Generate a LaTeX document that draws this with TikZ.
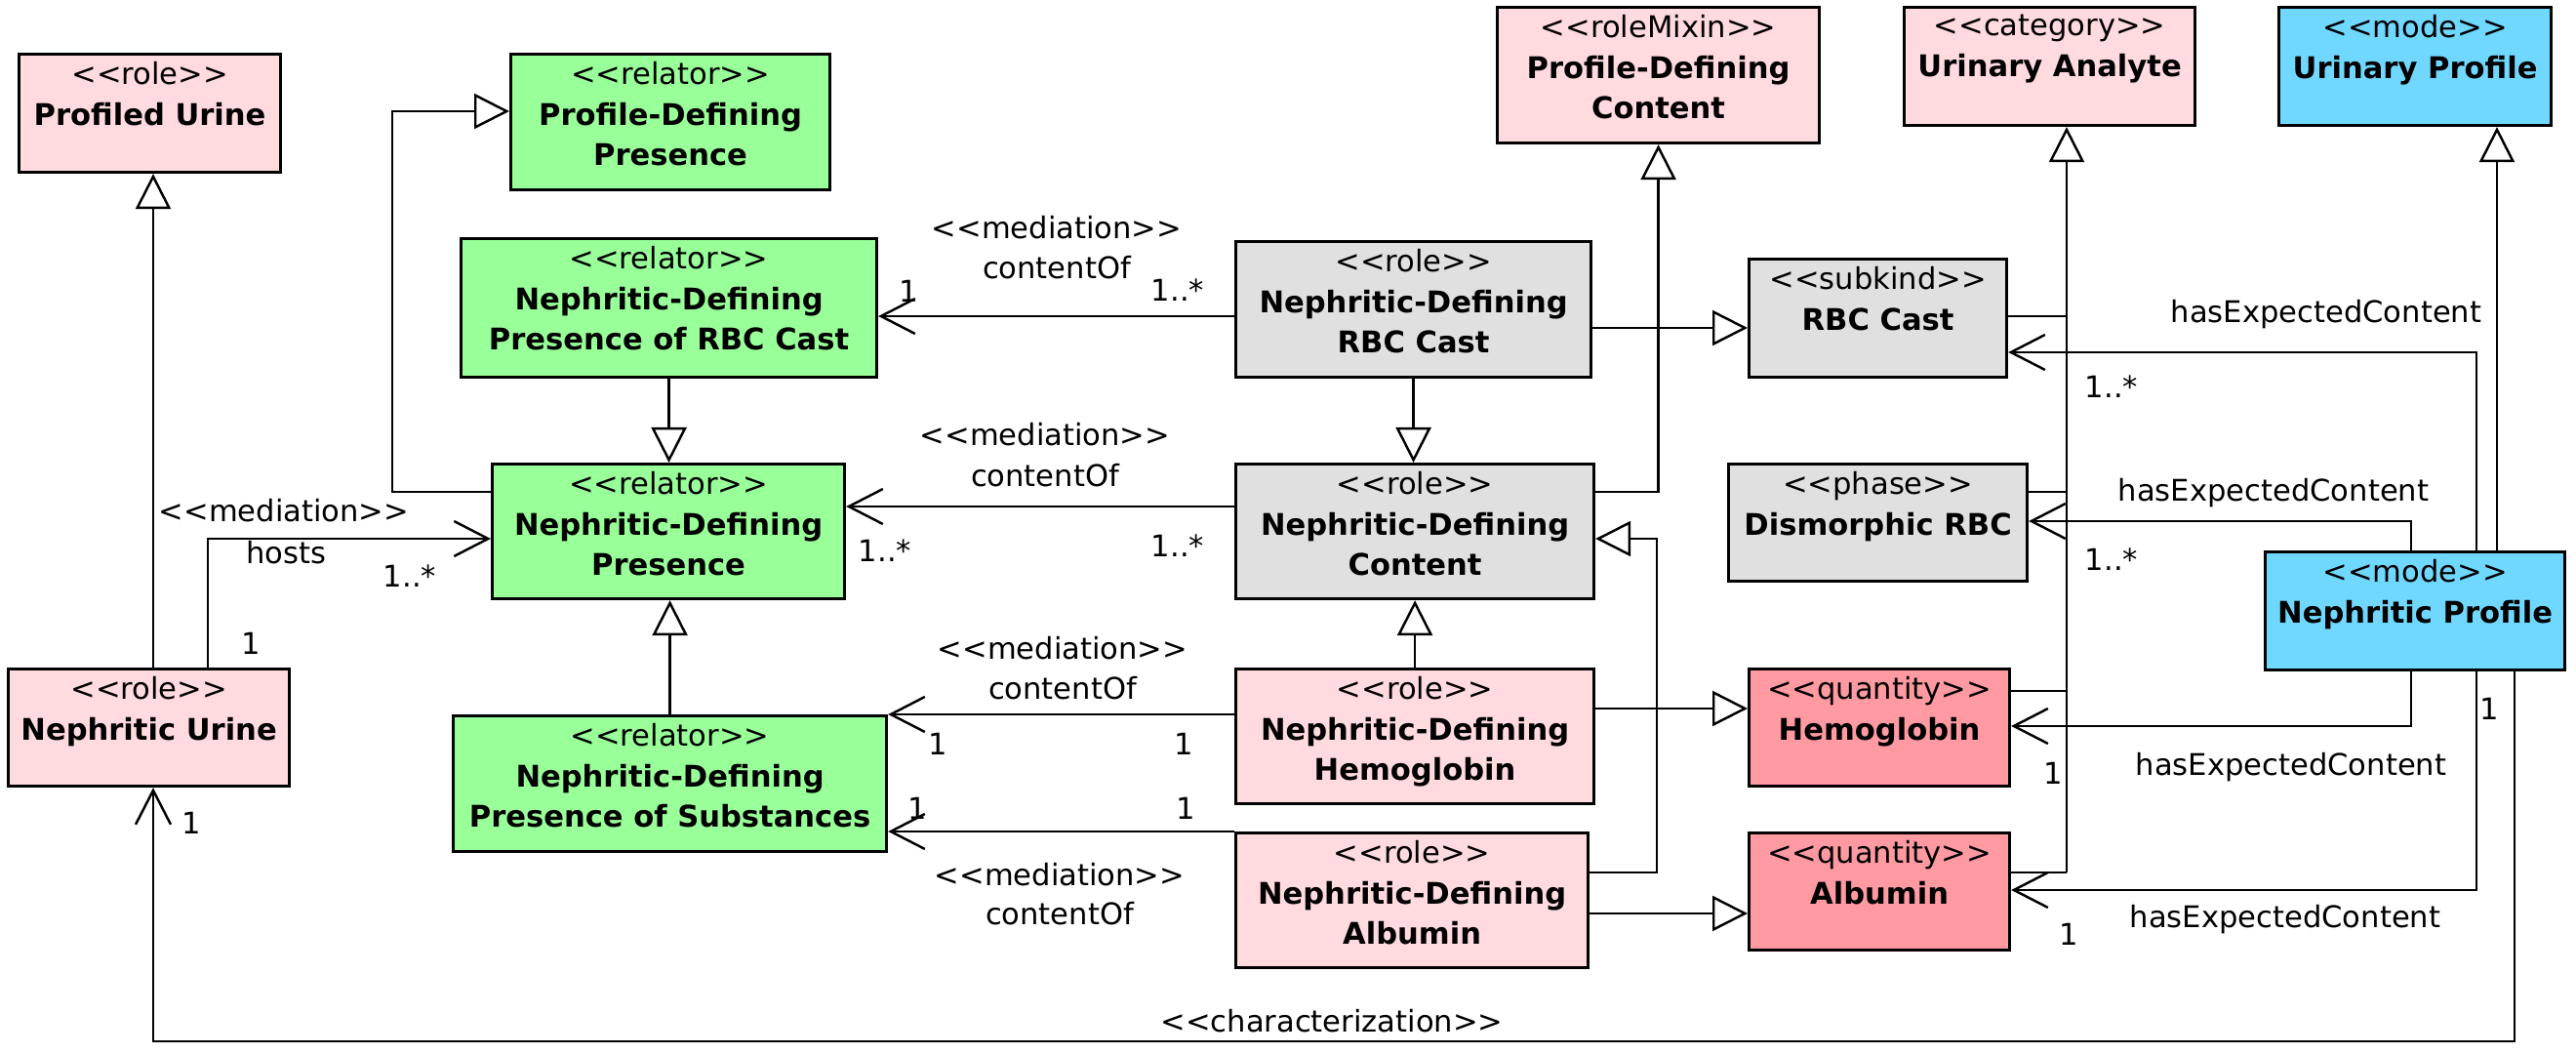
\documentclass[tikz,border=0pt]{standalone}
\usepackage{fontspec}
\setmainfont{DejaVu Sans}
\usetikzlibrary{arrows.meta}

\definecolor{rolepink}{RGB}{255,218,222}
\definecolor{relgreen}{RGB}{153,255,153}
\definecolor{kindgrey}{RGB}{224,224,224}
\definecolor{modeblue}{RGB}{112,216,255}
\definecolor{qtyred}{RGB}{255,153,162}

\newcommand{\diagfont}{\fontsize{8.7}{11.8}\selectfont}
\newcommand{\stereo}[1]{<{}<#1>{}>}
\newcommand{\cname}[1]{\textbf{#1}}

\begin{document}
\begin{tikzpicture}[
    every node/.style={font=\diagfont},
    cls/.style={draw, line width=0.9pt, anchor=north west, inner sep=0pt},
    ctext/.style={anchor=north, align=center, inner sep=2.5pt},
    lbl/.style={inner sep=0pt},
    conn/.style={line width=0.7pt},
    gen/.style={conn, -{Triangle[open, length=3.6mm, width=3.6mm]}},
    assoc/.style={conn, -{Straight Barb[length=3.5mm, width=3.6mm]}}
]

    \useasboundingbox (0,0) rectangle (26.4,-10.8);

    % classes, left part
    \node[cls, fill=rolepink, minimum width=2.68cm, minimum height=1.21cm,
        label={[ctext]north:{\stereo{role}\\\cname{Profiled Urine}}}] (pu) at (0.18,-0.54) {};
    \node[cls, fill=relgreen, minimum width=3.27cm, minimum height=1.39cm,
        label={[ctext]north:{\stereo{relator}\\\cname{Profile-Defining}\\\cname{Presence}}}] (pdp) at (5.22,-0.54) {};
    \node[cls, fill=relgreen, minimum width=4.26cm, minimum height=1.42cm,
        label={[ctext]north:{\stereo{relator}\\\cname{Nephritic-Defining}\\\cname{Presence of RBC Cast}}}] (ndprbc) at (4.71,-2.43) {};
    \node[cls, fill=relgreen, minimum width=3.61cm, minimum height=1.38cm,
        label={[ctext]north:{\stereo{relator}\\\cname{Nephritic-Defining}\\\cname{Presence}}}] (ndp) at (5.03,-4.74) {};
    \node[cls, fill=rolepink, minimum width=2.88cm, minimum height=1.20cm,
        label={[ctext]north:{\stereo{role}\\\cname{Nephritic Urine}}}] (nu) at (0.07,-6.84) {};
    \node[cls, fill=relgreen, minimum width=4.44cm, minimum height=1.39cm,
        label={[ctext]north:{\stereo{relator}\\\cname{Nephritic-Defining}\\\cname{Presence of Substances}}}] (ndps) at (4.63,-7.32) {};

    % classes, middle part
    \node[cls, fill=kindgrey, minimum width=3.64cm, minimum height=1.39cm,
        label={[ctext]north:{\stereo{role}\\\cname{Nephritic-Defining}\\\cname{RBC Cast}}}] (ndrbc) at (12.65,-2.46) {};
    \node[cls, fill=kindgrey, minimum width=3.67cm, minimum height=1.38cm,
        label={[ctext]north:{\stereo{role}\\\cname{Nephritic-Defining}\\\cname{Content}}}] (ndc) at (12.65,-4.74) {};
    \node[cls, fill=rolepink, minimum width=3.67cm, minimum height=1.38cm,
        label={[ctext]north:{\stereo{role}\\\cname{Nephritic-Defining}\\\cname{Hemoglobin}}}] (ndh) at (12.65,-6.84) {};
    \node[cls, fill=rolepink, minimum width=3.61cm, minimum height=1.38cm,
        label={[ctext]north:{\stereo{role}\\\cname{Nephritic-Defining}\\\cname{Albumin}}}] (nda) at (12.65,-8.52) {};
    \node[cls, fill=rolepink, minimum width=3.30cm, minimum height=1.39cm,
        label={[ctext]north:{\stereo{roleMixin}\\\cname{Profile-Defining}\\\cname{Content}}}] (pdc) at (15.33,-0.06) {};

    % classes, right part
    \node[cls, fill=rolepink, minimum width=2.98cm, minimum height=1.21cm,
        label={[ctext]north:{\stereo{category}\\\cname{Urinary Analyte}}}] (ua) at (19.50,-0.06) {};
    \node[cls, fill=modeblue, minimum width=2.79cm, minimum height=1.21cm,
        label={[ctext]north:{\stereo{mode}\\\cname{Urinary Profile}}}] (up) at (23.34,-0.06) {};
    \node[cls, fill=kindgrey, minimum width=2.64cm, minimum height=1.21cm,
        label={[ctext]north:{\stereo{subkind}\\\cname{RBC Cast}}}] (rbc) at (17.91,-2.64) {};
    \node[cls, fill=kindgrey, minimum width=3.06cm, minimum height=1.20cm,
        label={[ctext]north:{\stereo{phase}\\\cname{Dismorphic RBC}}}] (drbc) at (17.70,-4.74) {};
    \node[cls, fill=qtyred, minimum width=2.67cm, minimum height=1.20cm,
        label={[ctext]north:{\stereo{quantity}\\\cname{Hemoglobin}}}] (hb) at (17.91,-6.84) {};
    \node[cls, fill=qtyred, minimum width=2.67cm, minimum height=1.20cm,
        label={[ctext]north:{\stereo{quantity}\\\cname{Albumin}}}] (alb) at (17.91,-8.52) {};
    \node[cls, fill=modeblue, minimum width=3.07cm, minimum height=1.21cm,
        label={[ctext]north:{\stereo{mode}\\\cname{Nephritic Profile}}}] (np) at (23.20,-5.64) {};

    % generalizations
    \draw[gen] (nu.north -| 1.57,0) -- (pu.south -| 1.57,0);
    \draw[gen] (ndp.west |- 0,-5.04) -- (4.02,-5.04) |- (pdp.west |- 0,-1.14);
    \draw[gen] (ndprbc.south) -- (ndprbc.south |- ndp.north);
    \draw[gen] (ndps.north) -- (ndps.north |- ndp.south);
    \draw[gen] (ndrbc.east |- 0,-3.36) -- (rbc.west |- 0,-3.36);
    \draw[gen] (ndrbc.south) -- (ndrbc.south |- ndc.north);
    \draw[gen] (ndc.east |- 0,-5.04) -| (pdc.south);
    \draw[gen] (ndh.north) -- (ndh.north |- ndc.south);
    \draw[gen] (nda.east |- 0,-8.94) -| (16.98,-5.52) -- (ndc.east |- 0,-5.52);
    \draw[gen] (ndh.east |- 0,-7.26) -- (hb.west |- 0,-7.26);
    \draw[gen] (nda.east |- 0,-9.36) -- (alb.west |- 0,-9.36);
    \draw[gen] (21.18,-8.94) -- (21.18,0 |- ua.south);
    \foreach \n/\y in {rbc/-3.24, drbc/-5.04, hb/-7.08, alb/-8.94}
    {
        \draw[conn] (\n.east |- 0,\y) -- (21.18,\y);
    }
    \draw[gen] (np.north -| 25.59,0) -- (up.south -| 25.59,0);

    % mediations
    \draw[assoc] (ndrbc.west |- 0,-3.24) -- (ndprbc.east |- 0,-3.24);
    \draw[assoc] (ndc.west |- 0,-5.19) -- (ndp.east |- 0,-5.19);
    \draw[assoc] (nu.north -| 2.13,0) |- (ndp.west |- 0,-5.52);
    \draw[assoc] (ndh.west |- 0,-7.32) -- (ndps.east |- 0,-7.32);
    \draw[assoc] (nda.west |- 0,-8.52) -- (ndps.east |- 0,-8.52);

    \node[lbl] (m0) at (2.91,-5.23) {\stereo{mediation}};
    \node[lbl] (r0) at (2.93,-5.66) {hosts};
    \node[lbl] (k0a) at (4.20,-5.90) {1..*};
    \node[lbl] (k0b) at (2.57,-6.59) {1};
    \node[lbl] (m1) at (10.83,-2.33) {\stereo{mediation}};
    \node[lbl] (r1) at (10.83,-2.74) {contentOf};
    \node[lbl] (k1a) at (9.31,-2.98) {1};
    \node[lbl] (k1b) at (12.07,-2.97) {1..*};
    \node[lbl] (m2) at (10.71,-4.45) {\stereo{mediation}};
    \node[lbl] (r2) at (10.71,-4.87) {contentOf};
    \node[lbl] (k2a) at (9.07,-5.64) {1..*};
    \node[lbl] (k2b) at (12.07,-5.59) {1..*};
    \node[lbl] (m3) at (10.89,-6.64) {\stereo{mediation}};
    \node[lbl] (r3) at (10.89,-7.05) {contentOf};
    \node[lbl] (k3a) at (9.61,-7.62) {1};
    \node[lbl] (k3b) at (12.13,-7.62) {1};
    \node[lbl] (m4) at (10.86,-8.96) {\stereo{mediation}};
    \node[lbl] (r4) at (10.86,-9.36) {contentOf};
    \node[lbl] (k4a) at (9.40,-8.28) {1};
    \node[lbl] (k4b) at (12.15,-8.28) {1};

    % expected contents of the profile
    \draw[assoc] (np.north -| 25.38,0) |- (rbc.east |- 0,-3.61);
    \draw[assoc] (np.north -| 24.71,0) |- (drbc.east |- 0,-5.34);
    \draw[assoc] (np.south -| 24.71,0) |- (hb.east |- 0,-7.44);
    \draw[assoc] (np.south -| 25.38,0) |- (alb.east |- 0,-9.12);

    \node[lbl] (e1) at (23.84,-3.22) {hasExpectedContent};
    \node[lbl] (q1) at (21.64,-3.96) {1..*};
    \node[lbl] (e2) at (23.30,-5.05) {hasExpectedContent};
    \node[lbl] (q2) at (21.64,-5.73) {1..*};
    \node[lbl] (e3) at (23.48,-7.86) {hasExpectedContent};
    \node[lbl] (q3) at (21.04,-7.92) {1};
    \node[lbl] (e4) at (23.42,-9.42) {hasExpectedContent};
    \node[lbl] (q4) at (21.20,-9.57) {1};
    \node[lbl] (q5) at (25.51,-7.26) {1};

    % characterization
    \draw[assoc] (np.south -| 25.77,0) -- (25.77,-10.67) -| (nu.south -| 1.57,0);
    \node[lbl] (ch) at (13.65,-10.46) {\stereo{characterization}};
    \node[lbl] (q6) at (1.96,-8.43) {1};

\end{tikzpicture}
\end{document}
